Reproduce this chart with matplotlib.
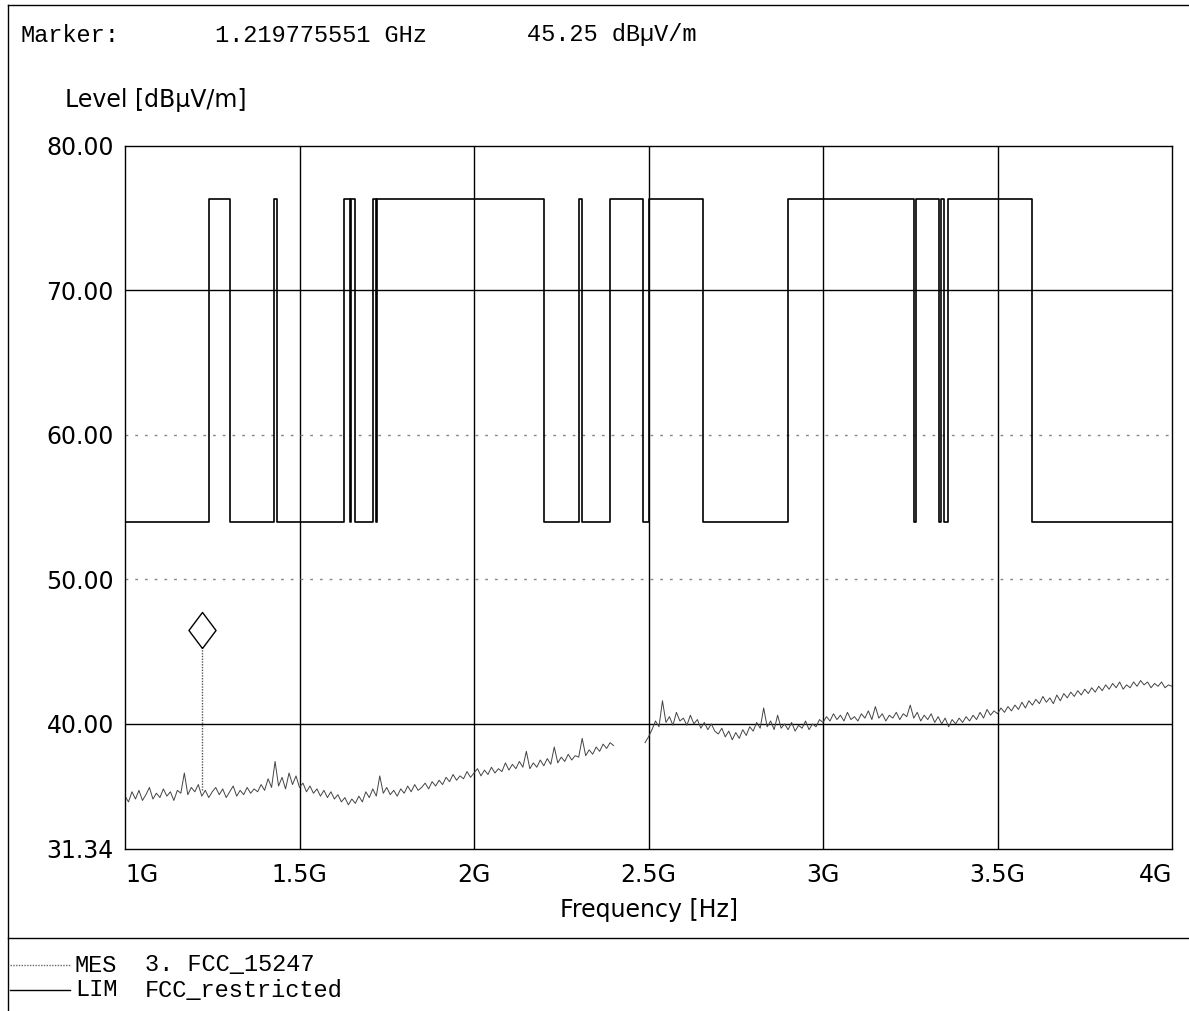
import numpy as np
import matplotlib
matplotlib.use("Agg")
import matplotlib.pyplot as plt
from matplotlib.lines import Line2D
from matplotlib.transforms import offset_copy

# measured trace, 10 MHz steps from 1.00 to 4.00 GHz (gap = fundamental band)
freq_ghz = np.round(np.arange(1.0, 4.0001, 0.01), 2)
nan = np.nan
mes_level = [
    35.0, 34.6, 35.3, 34.8, 35.4, 34.7, 35.1, 35.6, 34.8, 35.2,
    34.9, 35.5, 35.0, 35.3, 34.7, 35.4, 35.2, 36.6, 35.1, 35.6,
    35.3, 35.8, 35.0, 35.4, 34.9, 35.3, 35.6, 35.1, 35.5, 34.9,
    35.3, 35.7, 35.0, 35.4, 35.1, 35.6, 35.2, 35.5, 35.3, 35.8,
    35.4, 36.2, 35.6, 37.4, 35.7, 36.3, 35.5, 36.6, 35.8, 36.4,
    35.6, 35.9, 35.3, 35.7, 35.2, 35.5, 35.0, 35.4, 34.9, 35.3,
    34.8, 35.1, 34.6, 34.9, 34.4, 34.8, 34.5, 35.0, 34.6, 35.3,
    34.9, 35.5, 35.0, 36.4, 35.2, 35.6, 35.1, 35.4, 35.0, 35.5,
    35.2, 35.7, 35.3, 35.8, 35.4, 35.6, 35.9, 35.5, 36.0, 35.7,
    36.1, 35.8, 36.3, 36.0, 36.5, 36.1, 36.4, 36.2, 36.7, 36.3,
    36.6, 36.9, 36.4, 36.8, 36.5, 37.0, 36.6, 36.9, 36.7, 37.3,
    36.8, 37.2, 36.9, 37.4, 37.0, 38.1, 36.9, 37.3, 37.0, 37.5,
    37.1, 37.6, 37.2, 38.4, 37.3, 37.7, 37.4, 37.9, 37.5, 37.8,
    37.7, 39.0, 37.8, 38.2, 37.9, 38.4, 38.1, 38.6, 38.3, 38.7,
    38.5, nan, nan, nan, nan, nan, nan, nan, nan, 38.7,
    39.1, 39.6, 40.2, 39.8, 41.6, 40.1, 40.5, 39.9, 40.8, 40.2,
    40.4, 39.9, 40.6, 40.0, 40.3, 39.7, 40.1, 39.6, 40.0, 39.5,
    39.3, 39.7, 39.1, 39.5, 38.9, 39.4, 39.0, 39.6, 39.2, 39.8,
    39.5, 40.1, 39.7, 41.1, 39.8, 40.2, 39.6, 40.6, 39.7, 40.0,
    39.6, 40.1, 39.5, 39.9, 39.7, 40.2, 39.6, 40.0, 39.8, 40.3,
    40.1, 40.5, 40.2, 40.7, 40.3, 40.6, 40.2, 40.8, 40.3, 40.5,
    40.2, 40.7, 40.4, 40.9, 40.3, 41.2, 40.4, 40.7, 40.2, 40.6,
    40.4, 40.8, 40.3, 40.7, 40.5, 41.3, 40.4, 40.8, 40.2, 40.6,
    40.3, 40.7, 40.1, 40.5, 40.0, 40.4, 39.8, 40.3, 40.0, 40.4,
    40.1, 40.5, 40.2, 40.6, 40.3, 40.8, 40.4, 41.0, 40.6, 40.9,
    40.7, 41.1, 40.8, 41.2, 40.9, 41.3, 41.0, 41.5, 41.1, 41.6,
    41.3, 41.7, 41.4, 41.9, 41.5, 41.8, 41.4, 42.0, 41.6, 42.1,
    41.8, 42.2, 41.9, 42.3, 42.0, 42.4, 42.1, 42.5, 42.2, 42.6,
    42.3, 42.7, 42.4, 42.8, 42.5, 42.9, 42.4, 42.7, 42.5, 42.9,
    42.6, 43.0, 42.7, 42.9, 42.5, 42.8, 42.6, 42.9, 42.5, 42.7,
    42.6,
]

# FCC restricted bands (GHz) -> 54 dBuV/m, elsewhere the higher limit
restricted_bands = [
    (1.0, 1.24), (1.30, 1.427), (1.435, 1.6265), (1.6455, 1.6465),
    (1.66, 1.71), (1.7188, 1.7222), (2.20, 2.30), (2.31, 2.39),
    (2.4835, 2.50), (2.655, 2.90), (3.26, 3.267), (3.332, 3.339),
    (3.3458, 3.358), (3.60, 4.0),
]
lim_restricted = 54.0
lim_other = 76.3

marker_freq = 1.219775551
marker_level = 45.25
marker_trace = 35.4

y_ticks = [31.34, 40, 50, 60, 70, 80]
y_ticklabels = ["31.34", "40.00", "50.00", "60.00", "70.00", "80.00"]
x_ticks = [1.0, 1.5, 2.0, 2.5, 3.0, 3.5, 4.0]
x_ticklabels = ["1G", "1.5G", "2G", "2.5G", "3G", "3.5G", "4G"]

# build step limit line
lim_x, lim_y = [], []
for start, stop in restricted_bands:
    lim_x += [start, start, stop, stop]
    lim_y += [lim_other, lim_restricted, lim_restricted, lim_other]
lim_x, lim_y = lim_x[1:-1], lim_y[1:-1]

W, H = 1189, 1011
fig = plt.figure(figsize=(W / 100, H / 100), dpi=100)
fig.patch.set_facecolor("white")
ax = fig.add_axes([125 / W, 1 - 849 / H, (1172 - 125) / W, (849 - 146) / H])

sans = "DejaVu Sans"
mono = "Liberation Mono"

# grid
for xv in x_ticks[1:-1]:
    ax.axvline(xv, color="black", lw=1.0, zorder=1)
for yv in [40, 70]:
    ax.axhline(yv, color="black", lw=1.0, zorder=1)
for yv in [50, 60]:
    ax.axhline(yv, color="#888888", lw=1.0, ls=(0, (2, 5)), zorder=1)

ax.plot(lim_x, lim_y, color="black", lw=1.2, zorder=3)
ax.plot(freq_ghz, mes_level, color="#444444", lw=0.7, zorder=2)

# marker
ax.plot([marker_freq, marker_freq], [marker_trace, marker_level],
        color="#555555", lw=1.0, ls=(0, (1, 1)), zorder=4)
diamond = [(0, -1), (0.75, 0), (0, 1), (-0.75, 0), (0, -1)]
tr = offset_copy(ax.transData, fig=fig, x=0, y=13, units="points")
ax.plot([marker_freq], [marker_level], marker=diamond, markersize=26,
        markerfacecolor="white", markeredgecolor="black", mew=1.0,
        transform=tr, zorder=5, clip_on=False)

ax.set_xlim(1.0, 4.0)
ax.set_ylim(31.34, 80)
ax.set_yticks(y_ticks)
ax.set_yticklabels(y_ticklabels, fontsize=17, family=sans)
ax.set_xticks(x_ticks)
ax.set_xticklabels(x_ticklabels, fontsize=17, family=sans)
xl = ax.get_xticklabels()
xl[0].set_ha("left")
xl[-1].set_ha("right")
ax.tick_params(length=0, pad=8)
ax.tick_params(axis="x", pad=10)
for s in ax.spines.values():
    s.set_linewidth(1.0)
ax.set_xlabel("Frequency [Hz]", fontsize=17, family=sans, labelpad=8)

# header texts
fig.text(20 / W, 1 - 35 / H, "Marker:", fontsize=17, family=mono, va="center")
fig.text(215 / W, 1 - 35 / H, "1.219775551 GHz", fontsize=17, family=mono, va="center")
fig.text(527 / W, 1 - 35 / H, "45.25 dBµV/m", fontsize=17, family=mono, va="center")
fig.text(65 / W, 1 - 100 / H, "Level [dBµV/m]", fontsize=17, family=sans, va="center")

# frame lines
fig.add_artist(Line2D([8 / W, 1], [1 - 5 / H, 1 - 5 / H], color="black", lw=1.0))
fig.add_artist(Line2D([8 / W, 8 / W], [0, 1 - 5 / H], color="black", lw=1.0))
fig.add_artist(Line2D([8 / W, 1], [1 - 938 / H, 1 - 938 / H], color="black", lw=1.0))

# legend
fig.add_artist(Line2D([10 / W, 70 / W], [1 - 965 / H, 1 - 965 / H], color="#666666", lw=1.0, ls=(0, (1, 1))))
fig.add_artist(Line2D([10 / W, 70 / W], [1 - 990 / H, 1 - 990 / H], color="black", lw=1.0))
fig.text(75 / W, 1 - 965 / H, "MES", fontsize=17, family=mono, va="center")
fig.text(145 / W, 1 - 965 / H, "3. FCC_15247", fontsize=17, family=mono, va="center")
fig.text(75 / W, 1 - 990 / H, "LIM", fontsize=17, family=mono, va="center")
fig.text(145 / W, 1 - 990 / H, "FCC_restricted", fontsize=17, family=mono, va="center")

fig.savefig("out.png", dpi=100)
